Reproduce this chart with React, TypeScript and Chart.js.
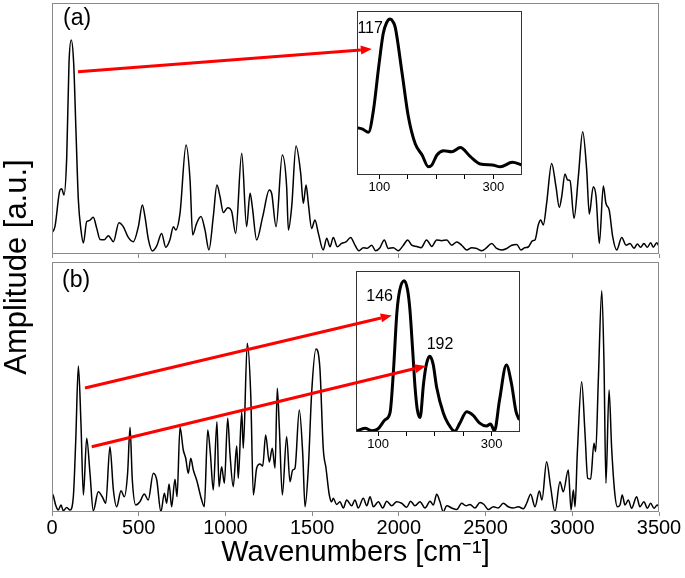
import React, { useEffect, useRef } from 'react';
import { Chart, registerables } from 'chart.js';

Chart.register(...registerables);

// ---------------- DATA ----------------
const mainTicks = [0, 500, 1000, 1500, 2000, 2500, 3000, 3500];
const insetTicks = [100, 150, 200, 250, 300];
const insetLabelled = [100, 300];

// panel (a): [wavenumber, amplitude]
const spectrumA: number[][] = [
  [0, 8.5], [17, 10.9], [46, 25.5], [56, 26], [69, 23.5], [85, 38.8], [98, 76], [111, 85.3], [125, 76],
  [138, 49.4], [152, 21.5], [167, 9.6], [181, 4.4], [200, 12.9], [215, 13.3], [238, 14.6], [258, 10.2],
  [277, 5.8], [302, 5.7], [325, 7.3], [354, 4.9], [386, 12.5], [411, 10.9], [440, 6.6], [469, 4.9],
  [498, 10.9], [521, 19.5], [536, 14.9], [556, 5.7], [579, 1.2], [604, 3.2], [632, 8.2], [656, 2.7],
  [680, 5.7], [700, 10.9], [713, 9.6], [738, 16.2], [773, 43.4], [796, 29.5], [811, 7.6], [834, 12.2],
  [859, 14.9], [882, 9.6], [905, 1.6], [930, 14.9], [951, 27.5], [969, 22.8], [988, 16.5], [1013, 18.4],
  [1036, 16.9], [1059, 8.2], [1094, 40.1], [1122, 10.9], [1142, 24.2], [1155, 18.8], [1180, 5.6],
  [1215, 14.9], [1253, 25.5], [1267, 24], [1292, 10.9], [1328, 39.4], [1353, 26.8], [1363, 9.6],
  [1382, 18.8], [1407, 43], [1434, 32.1], [1449, 20.2], [1465, 27.5], [1478, 20.2], [1497, 10.2],
  [1516, 13.5], [1536, 8.2], [1564, 1.6], [1584, 6.3], [1603, 2.9], [1622, 6.6], [1645, 2.9],
  [1670, 4.2], [1695, 4.8], [1722, 6.6], [1747, 3.5], [1770, 1.3], [1795, 2.5], [1818, 2.3],
  [1843, 3.5], [1866, 1.3], [1891, 2.5], [1916, 5.6], [1939, 2.2], [1968, 2.5], [1997, 1.3],
  [2026, 3.5], [2051, 5.6], [2074, 3.5], [2103, 3], [2128, 2.5], [2160, 5.6], [2190, 3], [2218, 5.6],
  [2247, 5.3], [2276, 5.6], [2305, 3.5], [2334, 4.8], [2362, 3.5], [2391, 1.6], [2420, 2.5],
  [2449, 2.2], [2478, 1.3], [2506, 2.5], [2535, 4.2], [2564, 2.2], [2593, 1.6], [2622, 2.2],
  [2651, 3.5], [2680, 3.8], [2704, 1.6], [2725, 2.5], [2746, 2.8], [2771, 5.3], [2785, 5.6],
  [2804, 11.6], [2818, 13.5], [2833, 11.6], [2852, 20.2], [2881, 36.1], [2906, 26.8], [2925, 18.6],
  [2939, 22.9], [2958, 31.9], [2973, 29.5], [2987, 29.2], [3010, 14.2], [3035, 30.8], [3060, 48.7],
  [3083, 33.5], [3098, 15.9], [3121, 26.8], [3137, 22.9], [3156, 4.2], [3179, 27.1], [3194, 20.2],
  [3213, 17.5], [3233, 6.9], [3256, 1.6], [3285, 6.6], [3310, 3.5], [3333, 4.2], [3356, 2.3],
  [3375, 4], [3394, 2.7], [3413, 4.2], [3433, 2.7], [3452, 4.5], [3467, 2.7], [3487, 4.5], [3500, 3],
];

// panel (b)
const spectrumB: number[][] = [
  [0, 7.5], [8, 6.4], [21, 2.8], [36, 0.8], [52, 2.8], [65, 0.5], [85, 1.8], [104, 0.8], [123, 6.1],
  [137, 28.8], [152, 58.4], [167, 35.5], [181, 6.8], [200, 29.5], [219, 15.5], [238, 0.5], [267, 8.1],
  [290, 6.1], [310, 3.5], [334, 26.1], [354, 8.8], [373, 2.1], [398, 8.5], [417, 6.1], [436, 15.5],
  [450, 33.9], [463, 12.9], [483, 2.8], [507, 4.1], [532, 7.2], [555, 4.8], [584, 15.5], [604, 12.8],
  [628, 0.1], [648, 7.5], [661, 3.5], [675, 11.2], [690, 2.1], [709, 13.1], [721, 6.1], [738, 33.9],
  [757, 24.8], [771, 21.5], [786, 15.5], [800, 21.5], [815, 16.8], [834, 12.8], [863, 4.8], [878, 2.1],
  [898, 32.8], [913, 23.5], [930, 8.8], [951, 36.1], [963, 10.1], [978, 18.1], [994, 11.5], [1013, 37.5],
  [1026, 23.5], [1045, 10.1], [1065, 26.4], [1074, 13.5], [1094, 40], [1103, 25.5], [1126, 67.5],
  [1146, 46.8], [1161, 6.8], [1180, 17.5], [1199, 19.2], [1215, 18.4], [1232, 30.8], [1253, 20],
  [1270, 25.5], [1286, 17.5], [1299, 49.5], [1311, 33.5], [1328, 6.8], [1353, 30.1], [1372, 12.1],
  [1388, 16.8], [1401, 17.5], [1426, 40.8], [1446, 22.9], [1459, 2.1], [1478, 17.5], [1497, 47.5],
  [1522, 65.2], [1545, 57.2], [1564, 25.5], [1580, 17.5], [1599, 6.8], [1612, 4.1], [1622, 5.5],
  [1641, 3], [1660, 4.1], [1680, 1.6], [1699, 4.8], [1728, 2.5], [1747, 4.8], [1766, 1.6], [1795, 5.5],
  [1815, 2.5], [1834, 6.1], [1853, 2.1], [1882, 4.1], [1907, 1.6], [1930, 4.3], [1959, 2.5],
  [1987, 4.1], [2016, 3.5], [2045, 1.9], [2068, 4.3], [2093, 2.5], [2122, 4.1], [2151, 1.6],
  [2180, 4.3], [2199, 2.8], [2218, 7.1], [2237, 4.1], [2256, 0.1], [2276, 2.5], [2305, 1.6],
  [2334, 1], [2362, 3.5], [2387, 2.5], [2410, 3], [2439, 1.6], [2468, 3.8], [2491, 3], [2516, 1],
  [2545, 2.1], [2573, 1.6], [2602, 3.5], [2631, 2.1], [2660, 1.6], [2689, 2.1], [2718, 1.3],
  [2737, 3.5], [2760, 7.1], [2785, 2.1], [2810, 8.4], [2825, 4.8], [2852, 20.1], [2875, 10.1],
  [2900, 0.1], [2929, 12.1], [2948, 8.1], [2977, 16.8], [2993, 0.8], [3006, 8.8], [3016, 2.1],
  [3029, 23.5], [3054, 52.1], [3073, 31.9], [3089, 13.5], [3106, 13.2], [3125, 27.5], [3135, 24.1],
  [3150, 52.4], [3170, 88.5], [3183, 59], [3194, 11.5], [3212, 48.8], [3227, 25.5], [3246, 6.8],
  [3260, 2.1], [3275, 2.8], [3288, 6.8], [3304, 2.8], [3323, 4.8], [3342, 1.5], [3371, 6.1],
  [3390, 2.1], [3413, 4.1], [3433, 1.5], [3452, 3.5], [3471, 1.5], [3490, 2.8], [3500, 2],
];

// inset (a): low-frequency zoom
const insetA: number[][] = [
  [61, 0.288], [71, 0.28], [81, 0.26], [90, 0.4], [99, 0.66], [107, 0.864], [113, 0.93], [119, 0.951],
  [124, 0.935], [128, 0.9], [140, 0.62], [151, 0.355], [163, 0.19], [175, 0.122], [186, 0.05],
  [192, 0.06], [201, 0.122], [213, 0.148], [227, 0.142], [242, 0.167], [260, 0.11], [277, 0.067],
  [298, 0.061], [312, 0.05], [333, 0.077], [350, 0.061],
];

// inset (b)
const insetB: number[][] = [
  [61, 0.005], [77, 0.023], [89, 0.008], [100, 0.02], [112, 0.075], [121, 0.12], [127, 0.38],
  [133, 0.74], [138, 0.88], [146, 0.94], [152, 0.88], [156, 0.76], [161, 0.5], [165, 0.28],
  [169, 0.14], [174, 0.09], [180, 0.3], [185, 0.42], [191, 0.47], [197, 0.42], [203, 0.28],
  [215, 0.116], [223, 0.055], [235, 0.005], [244, 0.055], [256, 0.126], [267, 0.105], [279, 0.055],
  [291, 0.037], [298, 0.05], [305, 0.008], [314, 0.2], [326, 0.416], [335, 0.3], [343, 0.126],
  [349, 0.075],
];

const peakLabelsA = [{ text: '117', x: 84, y: 0.89 }];
const peakLabelsB = [
  { text: '146', x: 102.6, y: 0.84 },
  { text: '192', x: 209, y: 0.54 },
];

// arrows: from main-panel data coords to inset data coords
const arrowsA = [{ from: [150, 72.6], to: [87, 0.768] }];
const arrowsB = [
  { from: [190, 49.6], to: [124, 0.724] },
  { from: [229, 26.1], to: [184, 0.41] },
];

// ---------------- LAYOUT ----------------
const W = 685;
const H = 578;
const FONT = "'Liberation Sans', Arial, sans-serif";
const BOX = '#8a8a8a';

const posMainA = { left: 0, top: 0, width: W, height: 258 };
const posMainB = { left: 0, top: 258, width: W, height: 320 };
const posInsetA = { left: 356, top: 10, width: 167, height: 190 };
const posInsetB = { left: 355, top: 270, width: 167, height: 190 };

const toXY = (d: number[][]) => d.map(([x, y]) => ({ x, y }));

function boxPlugin(color: string, lw: number, white: boolean, label?: { text: string; dx: number; dy: number }) {
  return {
    id: 'box',
    beforeDraw(chart: any) {
      if (!white) return;
      const { ctx, chartArea: a } = chart;
      ctx.save();
      ctx.fillStyle = '#ffffff';
      ctx.fillRect(a.left, a.top, a.right - a.left, a.bottom - a.top);
      ctx.restore();
    },
    afterDraw(chart: any) {
      const { ctx, chartArea: a } = chart;
      ctx.save();
      ctx.strokeStyle = color;
      ctx.lineWidth = lw;
      ctx.strokeRect(Math.round(a.left) + 0.5, Math.round(a.top) + 0.5, Math.round(a.right - a.left) - 1, Math.round(a.bottom - a.top) - 1);
      if (label) {
        ctx.fillStyle = '#000';
        ctx.font = `23px ${FONT}`;
        ctx.textBaseline = 'middle';
        ctx.textAlign = 'left';
        ctx.fillText(label.text, a.left + label.dx, a.top + label.dy);
      }
      ctx.restore();
    },
  };
}

function peakLabelPlugin(labels: { text: string; x: number; y: number }[]) {
  return {
    id: 'peaks',
    afterDraw(chart: any) {
      const { ctx } = chart;
      ctx.save();
      ctx.fillStyle = '#000';
      ctx.font = `16px ${FONT}`;
      ctx.textAlign = 'center';
      ctx.textBaseline = 'middle';
      labels.forEach((l) => {
        ctx.fillText(l.text, chart.scales.x.getPixelForValue(l.x), chart.scales.y.getPixelForValue(l.y));
      });
      ctx.restore();
    },
  };
}

function mainConfig(data: number[][], showLabels: boolean, pad: any, label: any): any {
  return {
    type: 'line',
    data: {
      datasets: [
        {
          data: toXY(data),
          borderColor: '#000',
          borderWidth: 1.5,
          pointRadius: 0,
          cubicInterpolationMode: 'monotone',
          fill: false,
        },
      ],
    },
    options: {
      animation: false,
      responsive: false,
      events: [],
      layout: { padding: pad },
      plugins: { legend: { display: false }, tooltip: { enabled: false } },
      scales: {
        x: {
          type: 'linear',
          min: 0,
          max: 3500,
          afterBuildTicks: (s: any) => {
            s.ticks = mainTicks.map((v) => ({ value: v }));
          },
          ticks: {
            display: showLabels,
            autoSkip: false,
            maxRotation: 0,
            color: '#000',
            padding: 0,
            font: { family: FONT, size: 20 },
            callback: (v: any) => String(v),
          },
          grid: { drawOnChartArea: false, drawTicks: true, tickLength: 4, color: BOX },
          border: { display: false },
          title: showLabels
            ? {
                display: true,
                text: 'Wavenumbers [cm⁻¹]',
                color: '#000',
                font: { family: FONT, size: 29 },
                padding: { top: 0, bottom: 8 },
              }
            : { display: false },
          afterFit: showLabels ? (s: any) => { s.height = 66; } : undefined,
        },
        y: { display: false, min: 0, max: 100 },
      },
    },
    plugins: [boxPlugin(BOX, 1, false, label)],
  };
}

function insetConfig(data: number[][], axisH: number, pad: any, labels: any): any {
  return {
    type: 'line',
    data: {
      datasets: [
        {
          data: toXY(data),
          borderColor: '#000',
          borderWidth: 3,
          pointRadius: 0,
          cubicInterpolationMode: 'monotone',
          fill: false,
        },
      ],
    },
    options: {
      animation: false,
      responsive: false,
      events: [],
      layout: { padding: pad },
      plugins: { legend: { display: false }, tooltip: { enabled: false } },
      scales: {
        x: {
          type: 'linear',
          min: 61,
          max: 350,
          afterBuildTicks: (s: any) => {
            s.ticks = insetTicks.map((v) => ({ value: v }));
          },
          ticks: {
            autoSkip: false,
            maxRotation: 0,
            color: '#000',
            padding: 1,
            font: { family: FONT, size: 13 },
            callback: (v: any) => (insetLabelled.includes(Number(v)) ? String(v) : ''),
          },
          grid: { drawOnChartArea: false, drawTicks: true, tickLength: 4, color: '#000' },
          border: { display: false },
          afterFit: (s: any) => { s.height = axisH; },
        },
        y: { display: false, min: 0, max: 1 },
      },
    },
    plugins: [boxPlugin('#333', 1, true), peakLabelPlugin(labels)],
  };
}

function drawArrow(ctx: CanvasRenderingContext2D, x1: number, y1: number, x2: number, y2: number) {
  const ang = Math.atan2(y2 - y1, x2 - x1);
  const head = 11;
  const hw = 4.5;
  const bx = x2 - head * Math.cos(ang);
  const by = y2 - head * Math.sin(ang);
  ctx.strokeStyle = '#ff0000';
  ctx.fillStyle = '#ff0000';
  ctx.lineWidth = 3;
  ctx.beginPath();
  ctx.moveTo(x1, y1);
  ctx.lineTo(bx, by);
  ctx.stroke();
  ctx.beginPath();
  ctx.moveTo(x2, y2);
  ctx.lineTo(bx - hw * Math.sin(ang), by + hw * Math.cos(ang));
  ctx.lineTo(bx + hw * Math.sin(ang), by - hw * Math.cos(ang));
  ctx.closePath();
  ctx.fill();
}

const canvasStyle = (p: any): React.CSSProperties => ({
  position: 'absolute',
  left: p.left,
  top: p.top,
  width: p.width,
  height: p.height,
});

export default function App() {
  const refA = useRef<HTMLCanvasElement>(null);
  const refB = useRef<HTMLCanvasElement>(null);
  const refIA = useRef<HTMLCanvasElement>(null);
  const refIB = useRef<HTMLCanvasElement>(null);
  const refO = useRef<HTMLCanvasElement>(null);

  useEffect(() => {
    const cA = new Chart(refA.current!, mainConfig(spectrumA, false, { left: 52, right: 26, top: 3, bottom: 0 }, { text: '(a)', dx: 11, dy: 16 }));
    const cB = new Chart(refB.current!, mainConfig(spectrumB, true, { left: 52, right: 26, top: 4, bottom: 0 }, { text: '(b)', dx: 10, dy: 19 }));
    const iA = new Chart(refIA.current!, insetConfig(insetA, 25, { left: 1, right: 1, top: 1, bottom: 0 }, peakLabelsA));
    const iB = new Chart(refIB.current!, insetConfig(insetB, 28, { left: 1, right: 2, top: 1, bottom: 0 }, peakLabelsB));

    const o = refO.current!;
    const ctx = o.getContext('2d')!;
    ctx.clearRect(0, 0, W, H);
    // y axis title
    ctx.save();
    ctx.translate(17, 267);
    ctx.rotate(-Math.PI / 2);
    ctx.fillStyle = '#000';
    ctx.font = `31px ${FONT}`;
    ctx.textAlign = 'center';
    ctx.textBaseline = 'middle';
    ctx.fillText('Amplitude [a.u.]', 0, 0);
    ctx.restore();

    const pairs: [Chart, any, Chart, any, any[]][] = [
      [cA, posMainA, iA, posInsetA, arrowsA],
      [cB, posMainB, iB, posInsetB, arrowsB],
    ];
    pairs.forEach(([m, pm, ins, pi, arrs]) => {
      arrs.forEach((a: any) => {
        const x1 = (m.scales as any).x.getPixelForValue(a.from[0]) + pm.left;
        const y1 = (m.scales as any).y.getPixelForValue(a.from[1]) + pm.top;
        const x2 = (ins.scales as any).x.getPixelForValue(a.to[0]) + pi.left;
        const y2 = (ins.scales as any).y.getPixelForValue(a.to[1]) + pi.top;
        drawArrow(ctx, x1, y1, x2, y2);
      });
    });

    return () => {
      cA.destroy();
      cB.destroy();
      iA.destroy();
      iB.destroy();
    };
  }, []);

  return (
    <div style={{ position: 'absolute', left: 0, top: 0, width: W, height: H, background: '#fff' }}>
      <canvas ref={refA} width={posMainA.width} height={posMainA.height} style={canvasStyle(posMainA)} />
      <canvas ref={refB} width={posMainB.width} height={posMainB.height} style={canvasStyle(posMainB)} />
      <canvas ref={refIA} width={posInsetA.width} height={posInsetA.height} style={canvasStyle(posInsetA)} />
      <canvas ref={refIB} width={posInsetB.width} height={posInsetB.height} style={canvasStyle(posInsetB)} />
      <canvas ref={refO} width={W} height={H} style={{ ...canvasStyle({ left: 0, top: 0, width: W, height: H }), pointerEvents: 'none' }} />
    </div>
  );
}
